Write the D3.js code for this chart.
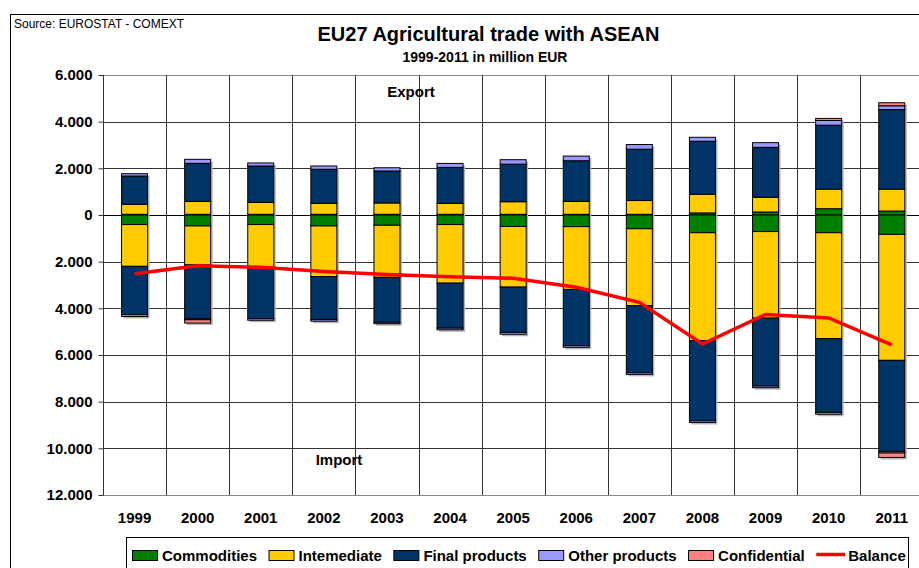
<!DOCTYPE html>
<html>
<head>
<meta charset="utf-8">
<script src="https://cdn.jsdelivr.net/npm/d3@7"></script>
<style>
  body { margin: 0; background: #fff; }
  svg text { font-family: Arial, 'Liberation Sans', sans-serif; }
</style>
</head>
<body>
<div id="viz"></div>
<script>
// data, million EUR
const years = ['1999', '2000', '2001', '2002', '2003', '2004', '2005', '2006', '2007', '2008', '2009', '2010', '2011'];

const expCommodities = [30, 30, 30, 30, 30, 30, 30, 30, 30, 90, 130, 270, 170];
const expIntermediate = [430, 555, 510, 470, 485, 470, 540, 555, 590, 800, 630, 840, 940];
const expFinal = [1210, 1630, 1560, 1460, 1370, 1540, 1610, 1740, 2200, 2270, 2140, 2740, 3410];
const expOther = [100, 170, 130, 140, 140, 170, 190, 200, 200, 170, 200, 200, 160];
const expConfidential = [0, 0, 0, 0, 0, 0, 0, 0, 0, 0, 0, 90, 130];

const impCommodities = [410, 470, 410, 470, 440, 410, 490, 500, 590, 760, 710, 760, 830];
const impIntermediate = [1790, 1670, 1830, 2170, 2230, 2510, 2600, 2690, 3300, 4630, 3710, 4540, 5400];
const impFinal = [2070, 2310, 2200, 1840, 1930, 1930, 1940, 2410, 2870, 3430, 2910, 3160, 3900];
const impOther = [80, 40, 70, 70, 60, 70, 80, 70, 70, 70, 70, 80, 70];
const impConfidential = [0, 140, 0, 0, 0, 0, 0, 0, 0, 0, 0, 0, 190];

const balance = [-2520, -2180, -2240, -2420, -2550, -2650, -2710, -3100, -3740, -5530, -4260, -4410, -5570];

const yTicks = [6000, 4000, 2000, 0, -2000, -4000, -6000, -8000, -10000, -12000];

const seriesNames = ['Commodities', 'Intemediate', 'Final products', 'Other products', 'Confidential'];
const seriesColors = ['#008000', '#ffcc00', '#003366', '#9999ff', '#ff8080'];

const w = 919;
const h = 568;

const svg = d3.select('#viz').append('svg')
    .attr('width', w)
    .attr('height', h)

// outer frame of the chart
svg.append('rect')
    .attr('x', 10.5).attr('y', 14.5)
    .attr('width', 960).attr('height', 600)
    .attr('fill', 'none').attr('stroke', '#000')

const x = d3.scaleBand().domain(years).range([103, 923.3]).padding(0)
const y = d3.scaleLinear().domain([-12000, 6000]).range([495, 75])

const plotLeft = 103, plotRight = 923.3;
const barW = 26;

// gridlines
svg.append('g').selectAll('line')
    .data(yTicks)
    .join('line')
    .attr('x1', plotLeft).attr('x2', plotRight)
    .attr('y1', d => Math.round(y(d)) + 0.5).attr('y2', d => Math.round(y(d)) + 0.5)
    .attr('stroke', d => d === 0 ? '#000' : (d === 6000 || d === -12000 ? '#888' : '#333'))
    .attr('stroke-width', 1)

svg.append('g').selectAll('line')
    .data(years)
    .join('line')
    .attr('x1', d => Math.round(x(d) + x.bandwidth()) + 0.5)
    .attr('x2', d => Math.round(x(d) + x.bandwidth()) + 0.5)
    .attr('y1', y(6000)).attr('y2', y(-12000))
    .attr('stroke', '#333')

// y axis
const fmt = d3.formatLocale({ decimal: ',', thousands: '.', grouping: [3], currency: ['', ''] }).format(',d')
const yAxis = svg.append('g')
    .attr('transform', `translate(${plotLeft + 0.5},0)`)
    .call(d3.axisLeft(y).tickValues(yTicks).tickSize(5).tickPadding(6).tickFormat(d => fmt(Math.abs(d))))
yAxis.select('.domain').attr('stroke', '#333').attr('d', `M0,${y(6000)}V${y(-12000)}`)
yAxis.selectAll('line').attr('stroke', '#333')
yAxis.selectAll('text')
    .attr('font-size', 15).attr('font-weight', 'bold').attr('fill', '#000')
    .attr('font-family', "Arial, 'Liberation Sans', sans-serif")

// x labels
svg.append('g').selectAll('text')
    .data(years)
    .join('text')
    .attr('x', d => x(d) + x.bandwidth() / 2)
    .attr('y', 523)
    .attr('text-anchor', 'middle')
    .attr('font-size', 15).attr('font-weight', 'bold')
    .text(d => d)

// stacked bars
const expSeries = [expCommodities, expIntermediate, expFinal, expOther, expConfidential];
const impSeries = [impCommodities, impIntermediate, impFinal, impOther, impConfidential];

const segs = [];
years.forEach((yr, i) => {
    let up = 0, down = 0;
    expSeries.forEach((s, k) => {
        if (s[i] > 0) { segs.push({ yr, k, y0: up, y1: up + s[i] }); up += s[i]; }
    })
    impSeries.forEach((s, k) => {
        if (s[i] > 0) { segs.push({ yr, k, y0: down - s[i], y1: down }); down -= s[i]; }
    })
})

// bar shadows
svg.append('g').selectAll('rect')
    .data(years)
    .join('rect')
    .attr('x', (d, i) => x(d) + (x.bandwidth() - barW) / 2 + 2)
    .attr('y', (d, i) => y(expSeries.reduce((a, s) => a + s[i], 0)) + 2)
    .attr('width', barW)
    .attr('height', (d, i) => y(-impSeries.reduce((a, s) => a + s[i], 0)) - y(expSeries.reduce((a, s) => a + s[i], 0)))
    .attr('fill', '#b4b4b4')

svg.append('g').selectAll('rect')
    .data(segs)
    .join('rect')
    .attr('x', d => x(d.yr) + (x.bandwidth() - barW) / 2)
    .attr('y', d => y(d.y1))
    .attr('width', barW)
    .attr('height', d => y(d.y0) - y(d.y1))
    .attr('fill', d => seriesColors[d.k])
    .attr('stroke', '#000')
    .attr('stroke-width', 1)

// balance line
svg.append('path')
    .datum(balance)
    .attr('d', d3.line().x((d, i) => x(years[i]) + x.bandwidth() / 2).y(d => y(d)))
    .attr('fill', 'none')
    .attr('stroke', '#ff0000')
    .attr('stroke-width', 3.5)

// titles and notes
svg.append('text').attr('x', 14).attr('y', 28).attr('font-size', 12).text('Source: EUROSTAT - COMEXT')
svg.append('text').attr('x', 488.5).attr('y', 41).attr('text-anchor', 'middle')
    .attr('font-size', 20).attr('font-weight', 'bold').text('EU27 Agricultural trade with ASEAN')
svg.append('text').attr('x', 485).attr('y', 62).attr('text-anchor', 'middle')
    .attr('font-size', 14).attr('font-weight', 'bold').text('1999-2011 in million EUR')
svg.append('text').attr('x', 411).attr('y', 97).attr('text-anchor', 'middle')
    .attr('font-size', 15).attr('font-weight', 'bold').text('Export')
svg.append('text').attr('x', 339).attr('y', 465).attr('text-anchor', 'middle')
    .attr('font-size', 15).attr('font-weight', 'bold').text('Import')

// legend
svg.append('rect')
    .attr('x', 126.5).attr('y', 537.5)
    .attr('width', 782).attr('height', 40)
    .attr('fill', '#fff').attr('stroke', '#000')

let lx = 132;
const legend = svg.append('g')
seriesNames.concat(['Balance']).forEach((name, k) => {
    if (k < seriesNames.length) {
        legend.append('rect')
            .attr('x', lx + 0.5).attr('y', 550.5)
            .attr('width', 25).attr('height', 10)
            .attr('fill', seriesColors[k]).attr('stroke', '#000')
        lx += 30;
    } else {
        legend.append('line')
            .attr('x1', lx).attr('x2', lx + 29)
            .attr('y1', 554.5).attr('y2', 554.5)
            .attr('stroke', '#ff0000').attr('stroke-width', 3.5)
        lx += 32;
    }
    const t = legend.append('text')
        .attr('x', lx).attr('y', 561)
        .attr('font-size', 15).attr('font-weight', 'bold')
        .text(name)
    lx += t.node().getComputedTextLength() + 11.5;
})
</script>
</body>
</html>
